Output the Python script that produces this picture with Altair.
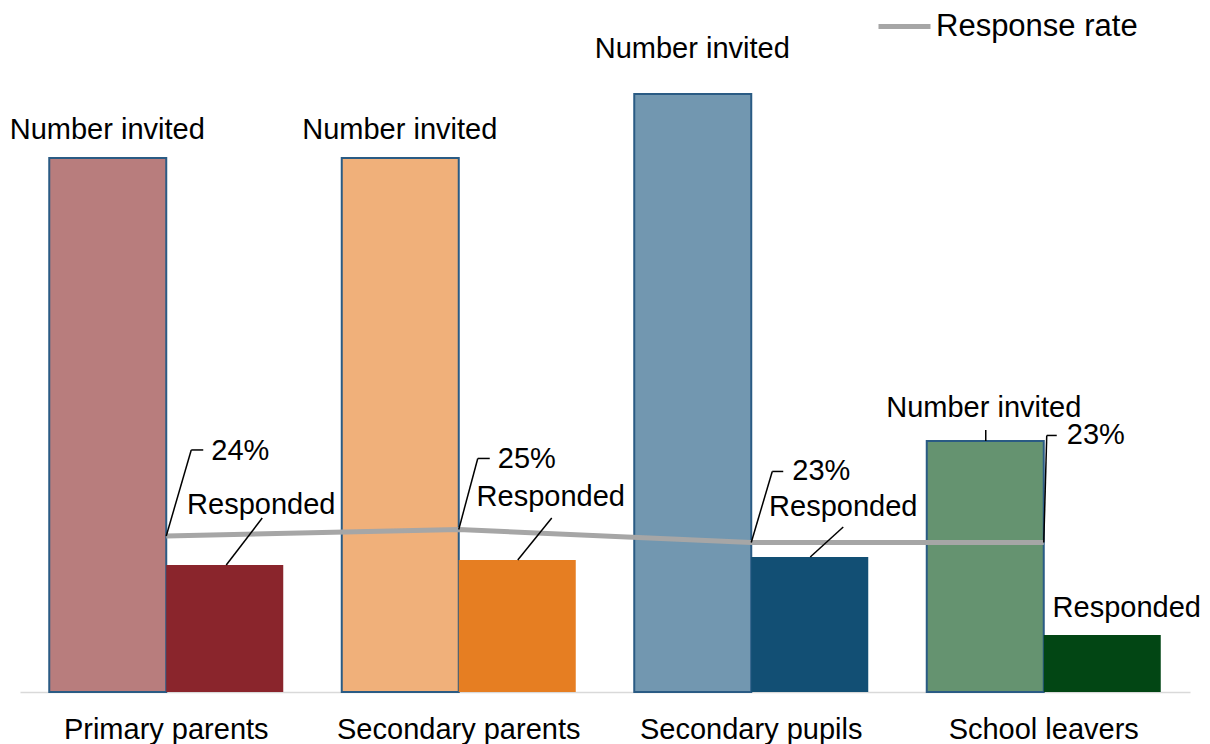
import altair as alt
import pandas as pd

# ---------------- data ----------------
categories = ["Primary parents", "Secondary parents", "Secondary pupils", "School leavers"]
series = ["Number invited", "Responded"]
invited = [534, 534, 598, 251]        # relative counts (bar heights)
responded = [127, 132, 135, 57]
response_rate = [24, 25, 23, 23]      # %
rate_labels = ["24%", "25%", "23%", "23%"]
line_name = "Response rate"

invited_colors = ["#b87d7d", "#f0b07a", "#7297b0", "#659370"]
responded_colors = ["#8a252c", "#e67e22", "#124f74", "#024614"]

# ---------------- layout (pixel offsets relative to group centre / anchor) ----------------
BAR_MAX = 684
RATE_MAX = 105.2
FONT = "Liberation Sans"
FS = 29
invited_label_off = [(-59, -28), (-59, -28), (-59, -45), (-60, -33)]
invited_leader_off = [None, None, None, ((-58, 0), (-58, -11))]
resp_label_off = [(95, -60), (92, -63), (92, -50), (83, -27)]
resp_leader_off = [((60, 0), (96, -47)), ((59, 0), (93, -42)), ((59, 0), (92, -30)), None]
pct_leader_off = [((0, 0), (25, -86), (37, -86)), ((0, 0), (19, -71), (31, -71)),
                  ((0, 0), (21, -71), (32, -71)), ((0, 0), (3, -107), (13, -107))]
pct_label_off = [(45, -85), (39, -70), (41, -71), (23, -107)]

# ---------------- tables ----------------
rows = []
keys, colors = [], []
for i, c in enumerate(categories):
    for s, v, col in ((series[0], invited[i], invited_colors[i]), (series[1], responded[i], responded_colors[i])):
        k = f"{c}|{s}"
        rows.append({"category": c, "series": s, "value": v, "key": k})
        keys.append(k)
        colors.append(col)
bars_df = pd.DataFrame(rows)
rate_df = pd.DataFrame({"category": categories, "rate": response_rate, "name": [line_name] * 4})


def xenc():
    return alt.X(
        field="category", type="nominal", sort=categories, bandPosition=0.5,
        scale=alt.Scale(paddingInner=0.2, paddingOuter=0.1),
        axis=alt.Axis(title=None, labelFontSize=FS, labelFont=FONT, labelColor="black",
                      labelPadding=23, labelLimit=0, ticks=False, domainColor="#d9d9d9",
                      domainWidth=1.5, labelAngle=0),
    )


def yenc(field, dom_max):
    return alt.Y(field=field, type="quantitative", scale=alt.Scale(domain=[0, dom_max]), axis=None)


bars = alt.Chart(bars_df).mark_bar(stroke="#2a5b84").encode(
    x=xenc(),
    xOffset=alt.XOffset("series:N", sort=series, scale=alt.Scale(paddingInner=0, paddingOuter=0)),
    y=yenc("value", BAR_MAX),
    color=alt.Color("key:N", scale=alt.Scale(domain=keys, range=colors), legend=None),
    strokeWidth=alt.StrokeWidth("series:N", scale=alt.Scale(domain=series, range=[2, 0]), legend=None),
)

line = alt.Chart(rate_df).mark_line(strokeWidth=5).encode(
    x=xenc(),
    y=yenc("rate", RATE_MAX),
    stroke=alt.Stroke("name:N", scale=alt.Scale(domain=[line_name], range=["#a6a6a6"]),
                      legend=alt.Legend(title=None, orient="none", legendX=856, legendY=-10,
                                        symbolType="stroke", symbolSize=2704, symbolStrokeWidth=5,
                                        labelFontSize=31, labelFont=FONT, labelColor="black",
                                        labelOffset=3, labelLimit=0, padding=0)),
)

layers = [bars, line]


def seg(df, field, dom_max, p1, p2):
    return alt.Chart(df).mark_rule(color="black", strokeWidth=1.5,
                                   xOffset=p1[0], yOffset=p1[1],
                                   x2Offset=p2[0], y2Offset=p2[1]).encode(
        x=xenc(), x2=alt.X2(field="category", bandPosition=0.5),
        y=yenc(field, dom_max), y2=alt.Y2(field=field),
    )


def label(df, field, dom_max, text_field, off, align="center"):
    return alt.Chart(df).mark_text(font=FONT, fontSize=FS, color="black", align=align,
                                   baseline="middle", dx=off[0], dy=off[1]).encode(
        x=xenc(), y=yenc(field, dom_max), text=alt.Text(f"{text_field}:N"),
    )


for i, c in enumerate(categories):
    df = pd.DataFrame({"category": [c], "inv": [invited[i]], "resp": [responded[i]],
                       "rate": [response_rate[i]], "pct": [rate_labels[i]],
                       "s_inv": [series[0]], "s_resp": [series[1]]})
    layers.append(label(df, "inv", BAR_MAX, "s_inv", invited_label_off[i]))
    if invited_leader_off[i]:
        layers.append(seg(df, "inv", BAR_MAX, *invited_leader_off[i]))
    layers.append(label(df, "resp", BAR_MAX, "s_resp", resp_label_off[i]))
    if resp_leader_off[i]:
        layers.append(seg(df, "resp", BAR_MAX, *resp_leader_off[i]))
    a, b, d = pct_leader_off[i]
    layers.append(seg(df, "rate", RATE_MAX, a, b))
    layers.append(seg(df, "rate", RATE_MAX, b, d))
    layers.append(label(df, "rate", RATE_MAX, "pct", pct_label_off[i], align="left"))

chart = alt.layer(*layers).resolve_scale(y="independent").properties(
    width=1170, height=684,
    autosize=alt.AutoSizeParams(type="none"),
    padding={"left": 12, "top": 0, "right": 12, "bottom": 52},
).configure_view(stroke=None)

chart.save("out.html", embed_options={"renderer": "svg", "actions": False})
